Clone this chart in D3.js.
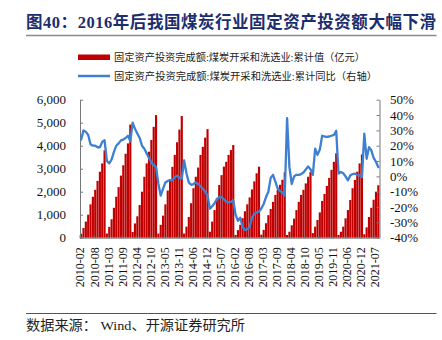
<!DOCTYPE html>
<html><head><meta charset="utf-8">
<script src="https://cdn.jsdelivr.net/npm/d3@7"></script>
<style>body{margin:0;background:#fff}svg{display:block}</style>
</head><body>
<svg id="chart" width="442" height="340"></svg>
<script>
// ---- data ----
const years = [2010,2011,2012,2013,2014,2015,2016,2017,2018,2019,2020,2021];
const monthCodes = ["02","03","04","05","06","07","08","09","10","11","12"];
// cumulative investment (亿元), Feb..Dec of each year
const inv2010 = [170,420,700,1000,1450,1780,2080,2470,2870,3230,3800];
const inv2011 = [180,470,800,1300,1780,2200,2700,3150,3650,4100,4920];
const inv2012 = [250,620,930,1420,2000,2650,3230,3740,4250,4820,5330];
const inv2013 = [180,560,960,1450,2050,2550,3080,3600,4150,4700,5290];
const inv2014 = [180,480,900,1500,2150,2650,3050,3600,3950,4350,4720];
const inv2015 = [260,700,1200,1710,2290,2720,3090,3300,3600,3810,4030];
const inv2016 = [120,330,560,850,1150,1450,1750,2100,2450,2800,3090];
const inv2017 = [130,340,630,980,1250,1560,1860,2080,2300,2520,2840];
const inv2018 = [120,260,540,830,1200,1560,1860,2080,2360,2650,2850];
const inv2019 = [200,480,770,1100,1600,1900,2250,2600,2950,3300,3670];
const inv2020 = [120,260,480,840,1200,1640,2150,2510,2870,3230,3620];
const inv2021 = [150,450,900,1300,1650,2000,2280];
// cumulative YoY growth (%)
const yoy2010 = [24,30,29,27,21,20,20,19,19,22.5,23.5];
const yoy2011 = [10,8.5,11,16,20,21.5,23.5,24,25,26.5,23];
const yoy2012 = [35,31,28,25,20,18,15,12,9,7.5,6];
const yoy2013 = [-5,-12.5,-8,-4,-3,-2.5,-2.5,-0.5,0.5,-1,-1.5];
const yoy2014 = [10.4,2,-4,-5.5,-5,-4,-5,-6.5,-8,-10,-12.5];
const yoy2015 = [-21,-19.5,-17.5,-15,-13.5,-13.5,-15,-16.5,-17,-16.7,-15.6];
const yoy2016 = [-25,-29,-27,-33,-35,-34.5,-33,-27,-24.5,-23.5,-23];
const yoy2017 = [-21,-18,-13.5,-10,-1,1,-3.5,-8,-9.5,-10.5,-12.5];
const yoy2018 = [38,6,-5,0,1,1,1.5,2.5,4.5,6.5,4.6];
const yoy2019 = [1,18,14,17.5,26.5,26,25.8,26,26.5,27,29.7];
const yoy2020 = [1.8,2.8,2,0,-2.6,0.6,1.5,1.8,0.8,0.6,-0.5];
const yoy2021 = [27.8,11.5,19,17,12,9.5,6];

const xTickLabels = ["2010-02","2010-08","2011-03","2011-09","2012-04","2012-10","2013-05","2013-11","2014-06","2014-12","2015-07","2016-02","2016-08","2017-03","2017-09","2018-04","2018-10","2019-05","2019-11","2020-06","2020-12","2021-07"];
const leftTicks = [0,1000,2000,3000,4000,5000,6000];
const rightTicks = [-0.4,-0.3,-0.2,-0.1,0,0.1,0.2,0.3,0.4,0.5];

const titleText = "图40：2016年后我国煤炭行业固定资产投资额大幅下滑";
const legendBar = "固定资产投资完成额:煤炭开采和洗选业:累计值（亿元）";
const legendLine = "固定资产投资完成额:煤炭开采和洗选业:累计同比（右轴）";
const sourceText = "数据来源： Wind、开源证券研究所";

// ---- assemble ----
const invByYear = [inv2010,inv2011,inv2012,inv2013,inv2014,inv2015,inv2016,inv2017,inv2018,inv2019,inv2020,inv2021];
const yoyByYear = [yoy2010,yoy2011,yoy2012,yoy2013,yoy2014,yoy2015,yoy2016,yoy2017,yoy2018,yoy2019,yoy2020,yoy2021];
const rows = [];
years.forEach((y, yi) => {
  invByYear[yi].forEach((v, mi) => {
    rows.push({cat: `${y}-${monthCodes[mi]}`, inv: v, yoy: yoyByYear[yi][mi] / 100});
  });
});
const cats = rows.map(d => d.cat);

const serif = "'Liberation Serif','Times New Roman','Noto Sans CJK SC',serif";
const cjk = "'Liberation Serif','Noto Sans CJK SC',sans-serif";

const svg = d3.select("#chart");
const L = 80, R = 379.5, T = 99.7, B = 237.7;

const x = d3.scaleBand().domain(cats).range([L, R]).paddingInner(0.08).paddingOuter(0.04);
const yL = d3.scaleLinear().domain([0, 6000]).range([B, T]);
const yR = d3.scaleLinear().domain([-0.4, 0.5]).range([B, T]);

// title
svg.append("text").attr("x", 26).attr("y", 28)
  .attr("font-family", cjk).attr("font-weight", 700).attr("font-size", 16.5)
  .attr("fill", "#1c2d6e").attr("textLength", 410).attr("lengthAdjust", "spacing")
  .text(titleText);
svg.append("line").attr("x1", 26).attr("x2", 436.5).attr("y1", 35.5).attr("y2", 35.5)
  .attr("stroke", "#8a8a8a").attr("stroke-width", 1.3);

// legend
svg.append("rect").attr("x", 78).attr("y", 54.5).attr("width", 32).attr("height", 5.5).attr("fill", "#C00000");
svg.append("text").attr("x", 114).attr("y", 61).attr("font-family", cjk).attr("font-size", 10)
  .attr("fill", "#222").attr("textLength", 251).attr("lengthAdjust", "spacingAndGlyphs").text(legendBar);
svg.append("line").attr("x1", 78).attr("x2", 110).attr("y1", 76).attr("y2", 76)
  .attr("stroke", "#3d7fd0").attr("stroke-width", 2.5);
svg.append("text").attr("x", 114).attr("y", 80).attr("font-family", cjk).attr("font-size", 10)
  .attr("fill", "#222").attr("textLength", 263).attr("lengthAdjust", "spacingAndGlyphs").text(legendLine);

// bars
svg.append("g").selectAll("rect").data(rows).join("rect")
  .attr("x", d => x(d.cat)).attr("width", x.bandwidth())
  .attr("y", d => yL(d.inv)).attr("height", d => B - yL(d.inv))
  .attr("fill", "#C00000");

// left axis
const gL = svg.append("g").attr("transform", `translate(${L},0)`)
  .call(d3.axisLeft(yL).tickValues(leftTicks).tickFormat(d3.format(",")).tickSizeInner(-3).tickSizeOuter(0).tickPadding(14));
// right axis
const fmtPct = v => `${Math.round(v * 100)}%`;
const gR = svg.append("g").attr("transform", `translate(${R},0)`)
  .call(d3.axisRight(yR).tickValues(rightTicks).tickFormat(fmtPct).tickSizeInner(-3).tickSizeOuter(0).tickPadding(10.5));
[gL, gR].forEach(g => {
  g.select(".domain").attr("stroke", "#777").attr("stroke-width", 1);
  g.selectAll(".tick line").attr("stroke", "#777");
  g.selectAll(".tick text").attr("font-family", serif).attr("font-size", 13).attr("fill", "#111");
});

// x axis
svg.append("line").attr("x1", L).attr("x2", R).attr("y1", B + 0.5).attr("y2", B + 0.5)
  .attr("stroke", "#777").attr("stroke-width", 1);
const step = x.step();
const boundary = c => x(c) - step * x.paddingInner() / 2;
const gX = svg.append("g");
gX.selectAll("line").data(xTickLabels).join("line")
  .attr("x1", d => boundary(d)).attr("x2", d => boundary(d))
  .attr("y1", B + 0.5).attr("y2", B - 2.5).attr("stroke", "#777");
gX.selectAll("text").data(xTickLabels).join("text")
  .attr("transform", d => `translate(${boundary(d) + 0.5},${B + 9.5}) rotate(-90)`)
  .attr("text-anchor", "end").attr("dy", "0.33em")
  .attr("font-family", serif).attr("font-size", 12).attr("fill", "#111")
  .text(d => d);

// yoy line
const line = d3.line().x(d => x(d.cat) + x.bandwidth() / 2).y(d => yR(d.yoy));
svg.append("path").datum(rows).attr("d", line)
  .attr("fill", "none").attr("stroke", "#3d7fd0").attr("stroke-width", 2.3)
  .attr("stroke-linejoin", "round").attr("stroke-linecap", "round");

// source
svg.append("line").attr("x1", 26).attr("x2", 436.5).attr("y1", 313.5).attr("y2", 313.5)
  .attr("stroke", "#555").attr("stroke-width", 1);
svg.append("text").attr("x", 26).attr("y", 330).attr("font-family", cjk).attr("font-size", 13.5)
  .attr("fill", "#222").attr("textLength", 219).attr("lengthAdjust", "spacingAndGlyphs").text(sourceText);
</script>
</body></html>
